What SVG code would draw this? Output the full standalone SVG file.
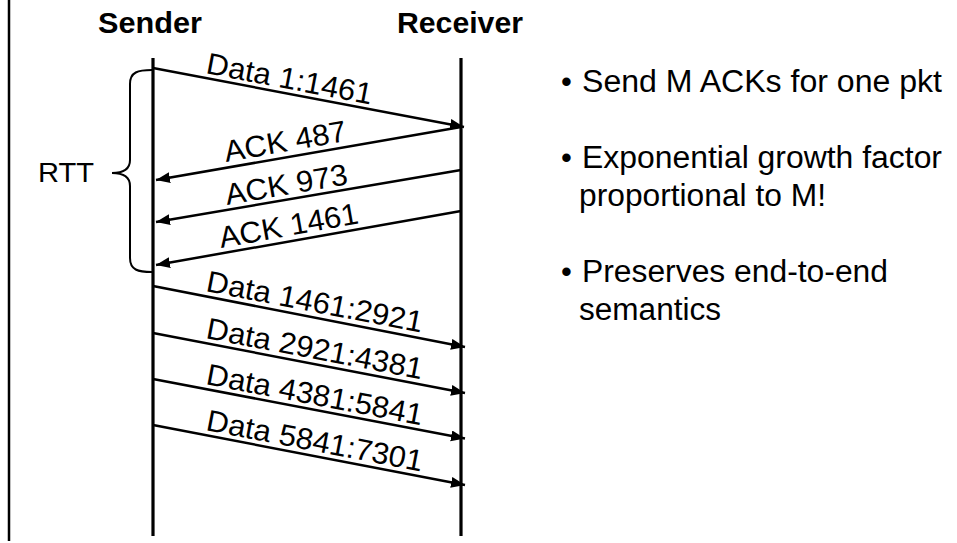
<svg xmlns="http://www.w3.org/2000/svg" width="957" height="543" viewBox="0 0 957 543">
<style>
  .t{font-family:"Liberation Sans",Arial,sans-serif;fill:#000}
  .title{font-size:29px;font-weight:bold}
  .lbl{font-size:30px}
  .blt{font-size:31px}
  .life{stroke:#000;stroke-width:3.2;fill:none}
  .arr{stroke:#000;stroke-width:2.5;fill:none;marker-end:url(#ah)}
</style>
<defs>
  <marker id="ah" markerUnits="userSpaceOnUse" markerWidth="16" markerHeight="12" refX="14" refY="5.5" orient="auto">
    <path d="M0,0 L14,5.5 L0,11 z" fill="#000"/>
  </marker>
</defs>
<rect width="957" height="543" fill="#fff"/>
<line x1="9" y1="0" x2="9" y2="541" stroke="#000" stroke-width="2.5"/>

<g id="sender">
  <text class="t title" x="98" y="33" textLength="104" lengthAdjust="spacingAndGlyphs">Sender</text>
  <line class="life" x1="153" y1="58" x2="153" y2="536"/>
</g>
<g id="receiver">
  <text class="t title" x="397" y="32.5" textLength="126" lengthAdjust="spacingAndGlyphs">Receiver</text>
  <line class="life" x1="461" y1="58" x2="461" y2="536"/>
</g>

<g id="rtt">
  <path d="M152,70 C138,70 130,72 130,84 L130,160 C130,169 123,173 112,173 C123,173 130,177 130,186 L130,258 C130,270 138,272 152,272" stroke="#000" stroke-width="2" fill="none"/>
  <text class="t" x="38" y="182" font-size="28.5" textLength="56" lengthAdjust="spacingAndGlyphs">RTT</text>
</g>

<g id="connectors">
  <line class="arr" x1="153" y1="68" x2="464" y2="127"/>
  <line class="arr" x1="461" y1="127" x2="156" y2="180"/>
  <line class="arr" x1="461" y1="170" x2="156" y2="222"/>
  <line class="arr" x1="461" y1="211" x2="156" y2="265"/>
  <line class="arr" x1="153" y1="286" x2="465" y2="347"/>
  <line class="arr" x1="153" y1="333" x2="465" y2="393"/>
  <line class="arr" x1="153" y1="379" x2="465" y2="438.5"/>
  <line class="arr" x1="153" y1="425" x2="465" y2="485"/>
</g>

<g id="labels">
  <text class="t lbl" transform="translate(205,73) rotate(10.8) scale(1.03,1)">Data 1:1461</text>
  <text class="t lbl" transform="translate(226,162) rotate(-9.9) scale(1.03,1)">ACK 487</text>
  <text class="t lbl" transform="translate(227,205) rotate(-9.7) scale(1.03,1)">ACK 973</text>
  <text class="t lbl" transform="translate(221,248) rotate(-10.1) scale(1.03,1)">ACK 1461</text>
  <text class="t lbl" transform="translate(205,291) rotate(10.9) scale(1.03,1)">Data 1461:2921</text>
  <text class="t lbl" transform="translate(205,338) rotate(10.8) scale(1.03,1)">Data 2921:4381</text>
  <text class="t lbl" transform="translate(205,384) rotate(10.8) scale(1.03,1)">Data 4381:5841</text>
  <text class="t lbl" transform="translate(205,430) rotate(10.9) scale(1.03,1)">Data 5841:7301</text>
</g>

<g id="notes">
  <text class="t blt" x="561" y="92">•</text>
  <text class="t blt" x="582" y="92" textLength="360" lengthAdjust="spacingAndGlyphs">Send M ACKs for one pkt</text>
  <text class="t blt" x="561" y="168">•</text>
  <text class="t blt" x="582" y="168" textLength="360" lengthAdjust="spacingAndGlyphs">Exponential growth factor</text>
  <text class="t blt" x="579" y="206" textLength="247" lengthAdjust="spacingAndGlyphs">proportional to M!</text>
  <text class="t blt" x="561" y="282">•</text>
  <text class="t blt" x="582" y="282" textLength="306" lengthAdjust="spacingAndGlyphs">Preserves end-to-end</text>
  <text class="t blt" x="579" y="320" textLength="142" lengthAdjust="spacingAndGlyphs">semantics</text>
</g>
</svg>
